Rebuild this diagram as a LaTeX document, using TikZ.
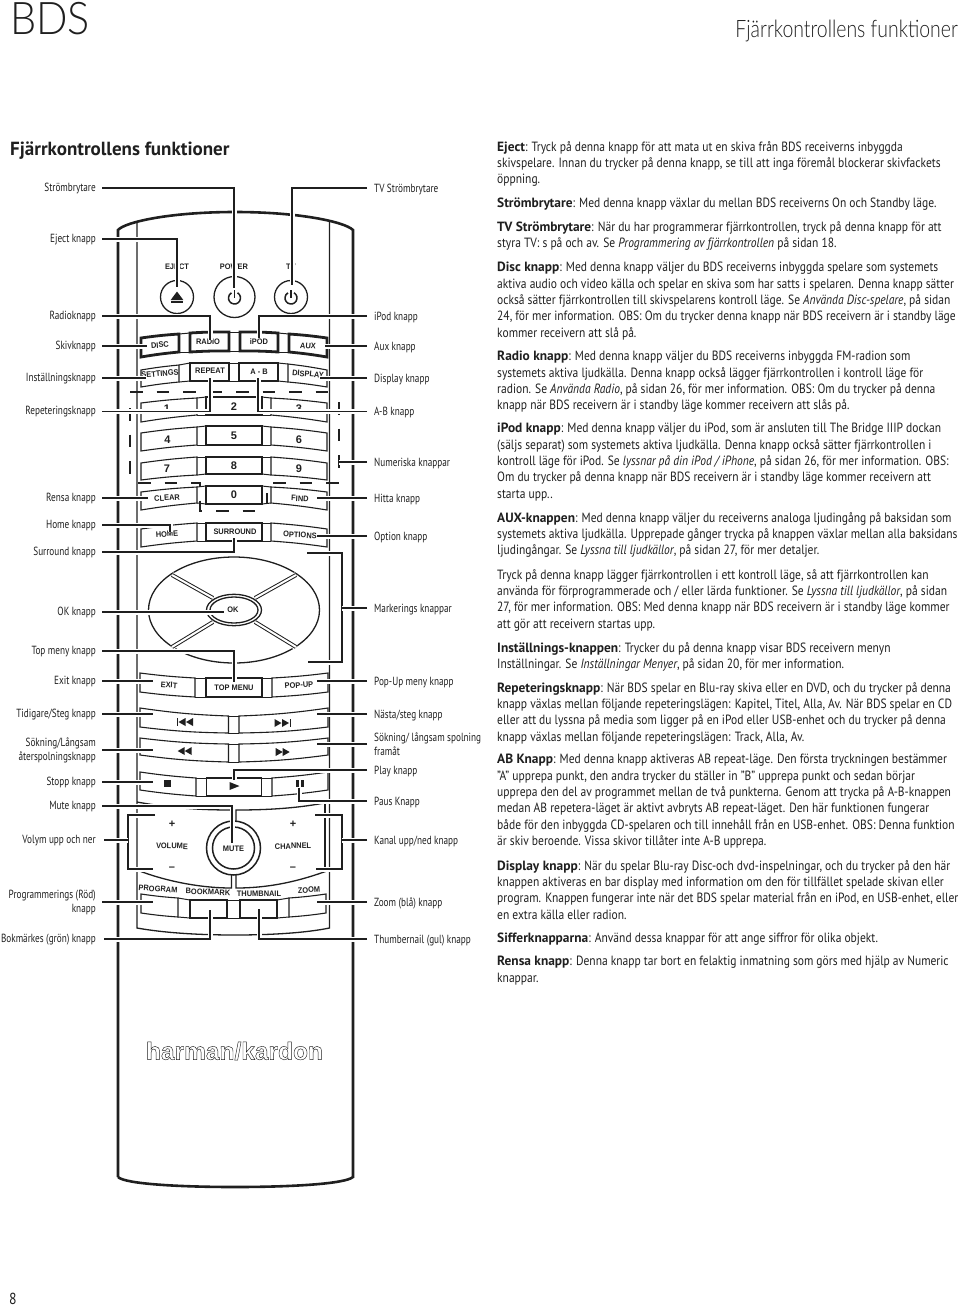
\documentclass[tikz,border=0pt]{standalone}
\usepackage{fontspec}
\usepackage{xcolor}
\setmainfont[FakeStretch=0.86,BoldFeatures={FakeStretch=1.0},ItalicFeatures={FakeStretch=0.86}]{PT Sans}
\newfontfamily\etikettfont[FakeStretch=0.78]{PT Sans}
\newfontfamily\knappfont[FakeStretch=0.93]{Liberation Sans}
\newfontfamily\logofont{Liberation Sans}
\newfontfamily\huvudfont[FakeStretch=0.92]{Lato Light}
\newfontfamily\sidfont[FakeStretch=0.81]{Lato Light}
\definecolor{trycksvart}{gray}{0.12}
\newcommand{\knapp}[8][knappline]{\draw[#1] (#2,#3) to[bend left=#8] (#4,#5) -- (#4,#6) to[bend right=#8] (#2,#7) -- cycle;}
\newcommand{\triV}[2]{\fill[trycksvart] (#1,#2) -- (#1+7,#2-4) -- (#1+7,#2+4) -- cycle;}
\newcommand{\triH}[2]{\fill[trycksvart] (#1,#2-4) -- (#1+7,#2) -- (#1,#2+4) -- cycle;}
\begin{document}
\begin{tikzpicture}[x=1pt, y=-1pt,
	every node/.style={inner sep=0pt, text=trycksvart},
	stycke/.style={anchor=north west, align=left, font=\fontsize{13.4}{16.35}\selectfont},
	etikett/.style={font=\etikettfont\fontsize{11.8}{14}\selectfont},
	vlabel/.style={etikett, anchor=east, align=right, inner xsep=6pt, text height=9.5pt, text depth=3.5pt},
	hlabel/.style={etikett, anchor=west, align=left, inner xsep=7pt, text height=10.5pt, text depth=2.5pt},
	tvarad/.style={text height=, text depth=},
	skal/.style={draw=trycksvart, line width=2.6pt},
	innerlinje/.style={draw=trycksvart, line width=1.3pt},
	knappline/.style={draw=trycksvart, line width=1.1pt, fill=white},
	knapptjock/.style={draw=trycksvart, line width=2.8pt, fill=white},
	mellanrum/.style={draw=trycksvart, line width=1pt},
	knapptext/.style={font=\knappfont\bfseries\fontsize{8}{9}\selectfont},
	siffra/.style={font=\logofont\bfseries\fontsize{11}{12}\selectfont},
	leader/.style={draw=trycksvart, line width=1.1pt, preaction={draw=white, line width=5pt}},
	sifferdash/.style={draw=trycksvart, line width=1.5pt, dash pattern=on 12.5pt off 14pt}]
\useasboundingbox (0,0) rectangle (960,1307);

\node[anchor=west, font=\huvudfont\fontsize{45}{45}\selectfont] (bds) at (10,19) {BDS};
\node[anchor=east, font=\sidfont\fontsize{24}{24}\selectfont] (sidhuvud) at (958,31) {Fjärrkontrollens funktioner};
\node[anchor=west, font=\bfseries\fontsize{19}{20}\selectfont] (rubrik) at (10,151) {Fjärrkontrollens funktioner};
\node[anchor=west, font=\fontsize{16}{16}\selectfont] (sida) at (9,1299) {8};

\draw[skal] (118,1177) -- (118,230) .. controls (125,222) and (170,212) .. (235,212) .. controls (300,212) and (345,222) .. (353,230) -- (353,1177) .. controls (345,1184) and (290,1187) .. (235,1187) .. controls (180,1187) and (125,1184) .. (118,1177);
\draw[innerlinje] (137,221) -- (137,928) .. controls (165,933) and (200,935) .. (235,935) .. controls (270,935) and (305,933) .. (329.5,928) -- (329.5,221);

\draw[line width=1.3pt, draw=trycksvart] (177,297) circle (16.5);
\draw[line width=1.3pt, draw=trycksvart] (234.5,297) circle (20.5);
\draw[line width=1.3pt, draw=trycksvart] (291,297) circle (16.5);
\fill[trycksvart] (170.7,300) -- (177,291.5) -- (183.3,300) -- cycle;
\fill[trycksvart] (170.7,301) rectangle (183.3,303);
\draw[line width=1.5pt, draw=trycksvart] (237.5,292.8) arc[start angle=-60, end angle=240, radius=6];
\draw[line width=1.5pt, draw=trycksvart] (234.5,290) -- (234.5,298);
\draw[line width=1.5pt, draw=trycksvart] (294,292.8) arc[start angle=-60, end angle=240, radius=6];
\draw[line width=1.5pt, draw=trycksvart] (291,290) -- (291,298);

\foreach \xa/\ya/\xb/\yb in {179/334/190/333, 229/332/240/332, 278/333/289/334, 179/352/190/352, 229/351/240/351, 278/352/289/352,
	179/365/190/363, 229/363/240/363, 278/363/288/364, 179/382/190/381, 229/381/240/381, 278/381/288/382,
	197/398/206/397, 262/397/271/398, 197/415/206/415, 262/415/271/415,
	197/427/206/426, 262/426/271/427, 197/445/206/445, 262/445/271/445,
	197/457/206/457, 262/457/271/457, 197/475/206/474, 262/474/271/475,
	197/487/206/486, 262/486/271/487, 197/503/206/504, 262/504/271/503,
	197/523/206/523, 262/523/271/523, 197/541/206/541, 262/541/271/541,
	195/678/206/678, 262/678/272/678, 195/697/206/697, 262/697/272/697,
	228/716/239/716, 228/733/239/733, 228/744/239/744, 228/762/239/762,
	196/778/206/778, 262/778/272/778, 196/796/206/796, 262/796/272/796,
	178/898/190/900, 227/900/240/900, 277/900/289/898, 178/917/190/918, 227/918/240/918, 277/918/289/917}
	\draw[mellanrum] (\xa,\ya) -- (\xb,\yb);

\knapp[knapptjock]{141}{338}{179}{334}{352}{357}{2}
\knapp[knapptjock]{190}{333}{229}{332}{351}{352}{2}
\knapp[knapptjock]{240}{332}{278}{333}{352}{351}{2}
\knapp[knapptjock]{289}{334}{327}{338}{357}{352}{2}
\knapp{141}{370}{179}{365}{382}{387}{2}
\knapp{190}{363}{229}{363}{381}{381}{0}
\knapp{239}{363}{278}{363}{381}{381}{0}
\knapp{288}{364}{327}{370}{387}{382}{2}
\knapp{141}{403}{197}{398}{415}{422}{2}
\knapp{206}{397}{262}{397}{415}{415}{0}
\knapp{271}{398}{327}{403}{422}{415}{2}
\knapp{141}{433}{197}{427}{445}{451}{2}
\knapp{206}{426}{262}{426}{445}{445}{0}
\knapp{271}{427}{327}{433}{451}{445}{2}
\knapp{141}{463}{197}{457}{475}{480}{2}
\knapp{206}{457}{262}{457}{474}{474}{0}
\knapp{271}{457}{327}{463}{480}{475}{2}
\knapp{141}{492}{197}{487}{503}{510}{2}
\knapp{206}{486}{262}{486}{504}{504}{0}
\knapp{271}{487}{327}{492}{510}{503}{2}
\knapp{141}{529}{197}{523}{541}{547}{2}
\knapp{206}{523}{262}{523}{541}{541}{0}
\knapp{271}{523}{327}{529}{547}{541}{2}
\knapp{140}{673}{195}{678}{697}{692}{-2}
\knapp{206}{678}{262}{678}{697}{697}{0}
\knapp{272}{678}{328}{673}{692}{697}{-2}
\knapp{140}{708}{228.5}{716}{733}{727}{-3}
\knapp{239}{716}{328}{708}{727}{733}{-3}
\knapp{140}{738}{228.5}{744}{762}{755}{-3}
\knapp{239}{744}{328}{738}{755}{762}{-3}
\knapp{140}{772}{196}{778}{796}{790}{-2}
\knapp{206.5}{778}{261.5}{778}{796}{796}{0}
\knapp{272}{778}{328}{772}{790}{796}{-2}
\knapp{141}{894}{178}{898}{917}{913}{-2}
\knapp{190}{900}{227}{900}{918}{918}{0}
\knapp{240}{900}{277}{900}{918}{918}{0}
\knapp{289}{898}{326}{894}{913}{917}{-2}

\draw[innerlinje] (137,802) .. controls (170,808) and (200,810) .. (231.5,810) -- (231.5,822);
\draw[innerlinje] (329.5,802) .. controls (300,808) and (270,810) .. (236,810) -- (236,822);
\draw[innerlinje] (137,870) .. controls (165,881) and (200,888) .. (231.5,888) -- (231.5,874);
\draw[innerlinje] (329.5,870) .. controls (300,881) and (270,888) .. (236,888) -- (236,874);
\draw[innerlinje] (325,803) -- (325,870);
\draw[line width=1.5pt, draw=trycksvart, fill=white] (233.5,848) circle (27);
\draw[line width=1.5pt, draw=trycksvart] (233.5,848) circle (21);

\draw[line width=1.3pt, draw=trycksvart] (234,610) ellipse[x radius=85.5, y radius=53];
\foreach \xa/\ya/\xb/\yb in {213/598/172/575, 255/598/296/575, 213/622/172/647, 255/622/296/647}
	\draw[line width=1pt, double=white, double distance=2pt, draw=trycksvart, preaction={draw=white, line width=6pt}] (\xa,\ya) -- (\xb,\yb);
\draw[line width=1.3pt, draw=trycksvart, fill=white] (234,610) ellipse[x radius=27.5, y radius=15.7];
\draw[line width=1.3pt, draw=trycksvart] (234,610) ellipse[x radius=24, y radius=13];

\draw[sifferdash] (130,392) -- (335,392);
\draw[sifferdash] (130,408) -- (130,480);
\draw[sifferdash] (138,483) -- (200,483) -- (200,511) -- (262,511);
\draw[line width=1.5pt, draw=trycksvart] (267,493) -- (267,504);
\draw[sifferdash] (273,483) -- (340,483);
\draw[sifferdash] (339,402) -- (339,470);

\node[knapptext] (tEject) at (177,267) {EJECT};
\node[knapptext] (tPower) at (234,267) {POWER};
\node[knapptext] (tTv) at (291,267) {TV};
\node[knapptext, rotate=5] (tDisc) at (160,345) {DISC};
\node[knapptext] (tRadio) at (208,342) {RADIO};
\node[knapptext] (tIpod) at (259,342) {iPOD};
\node[knapptext, rotate=-5] (tAux) at (308,346) {AUX};
\node[knapptext, rotate=5] (tSettings) at (160,373.5) {SETTINGS};
\node[knapptext] (tRepeat) at (210,371) {REPEAT};
\node[knapptext] (tAB) at (259,371.5) {A - B};
\node[knapptext, rotate=-5] (tDisplay) at (308,374) {DISPLAY};
\node[siffra] (t1) at (167,409) {1};
\node[siffra] (t2) at (234,407) {2};
\node[siffra] (t3) at (299,409) {3};
\node[siffra] (t4) at (167.5,440) {4};
\node[siffra] (t5) at (234,436) {5};
\node[siffra] (t6) at (299,440) {6};
\node[siffra] (t7) at (167,469) {7};
\node[siffra] (t8) at (234,466) {8};
\node[siffra] (t9) at (299,469) {9};
\node[siffra] (t0) at (234,495) {0};
\node[knapptext, rotate=4] (tClear) at (167,498) {CLEAR};
\node[knapptext, rotate=-3] (tFind) at (300,498.5) {FIND};
\node[knapptext, rotate=4] (tHome) at (167,534) {HOME};
\node[knapptext] (tSurround) at (235,532) {SURROUND};
\node[knapptext, rotate=-3] (tOptions) at (300,535) {OPTIONS};
\node[knapptext] (tOk) at (233,610) {OK};
\node[knapptext, rotate=-4] (tExit) at (169,685) {EXIT};
\node[knapptext] (tTopmenu) at (234,688) {TOP MENU};
\node[knapptext, rotate=4] (tPopup) at (299,685) {POP-UP};
\node[knapptext, rotate=-2] (tVolume) at (172,846) {VOLUME};
\node[knapptext] (tMute) at (233.5,849) {MUTE};
\node[knapptext, rotate=2] (tChannel) at (293,846) {CHANNEL};
\node[siffra] (tVplus) at (172,824) {+};
\node[siffra] (tKplus) at (293,824) {+};
\node[siffra] (tVminus) at (172,869) {–};
\node[siffra] (tKminus) at (293,869) {–};
\node[knapptext, rotate=-4] (tProgram) at (158,889) {PROGRAM};
\node[knapptext, rotate=-2] (tBookmark) at (208,892) {BOOKMARK};
\node[knapptext] (tThumbnail) at (259,894) {THUMBNAIL};
\node[knapptext, rotate=4] (tZoom) at (309,890) {ZOOM};

\fill[trycksvart] (176.7,718) rectangle (178.4,726);
\triV{178.5}{722}
\triV{186}{722}
\triH{274.5}{723}
\triH{282}{723}
\fill[trycksvart] (289.5,719) rectangle (291.3,727);
\triV{177.7}{751}
\triV{184.7}{751}
\triH{275.7}{752}
\triH{282.7}{752}
\fill[trycksvart] (163.5,780) rectangle (170.5,786.7);
\fill[trycksvart] (229.5,782) -- (239.5,786) -- (229.5,790) -- cycle;
\fill[trycksvart] (296,780) rectangle (299,787);
\fill[trycksvart] (300.7,780) rectangle (303.7,787);

\node[font=\logofont\bfseries\fontsize{24.5}{25}\selectfont] (logo) at (234.5,1051) {\special{pdf:literal direct 1 Tr 0.45 w}harman/kardon\special{pdf:literal direct 0 Tr}};

\node[vlabel] (lStrom) at (102,188) {Strömbrytare};
\node[vlabel] (lEject) at (102,239) {Eject knapp};
\node[vlabel] (lRadio) at (102,316) {Radioknapp};
\node[vlabel] (lSkiv) at (102,346) {Skivknapp};
\node[vlabel] (lInst) at (102,378) {Inställningsknapp};
\node[vlabel] (lRep) at (102,411.5) {Repeteringsknapp};
\node[vlabel] (lRensa) at (102,498) {Rensa knapp};
\node[vlabel] (lHome) at (102,525) {Home knapp};
\node[vlabel] (lSurr) at (102,552) {Surround knapp};
\node[vlabel] (lOk) at (102,612) {OK knapp};
\node[vlabel] (lTop) at (102,651) {Top meny knapp};
\node[vlabel] (lExit) at (102,681) {Exit knapp};
\node[vlabel] (lTid) at (102,714) {Tidigare/Steg knapp};
\node[vlabel, tvarad] (lSok) at (102,750) {Sökning/Långsam\\återspolningsknapp};
\node[vlabel] (lStopp) at (102,782) {Stopp knapp};
\node[vlabel] (lMute) at (102,806) {Mute knapp};
\node[vlabel, inner xsep=8pt] (lVol) at (104,840) {Volym upp och ner};
\node[vlabel, tvarad] (lProg) at (102,902) {Programmerings (Röd)\\knapp};
\node[vlabel, inner xsep=8pt] (lBok) at (104,939) {Bokmärkes (grön) knapp};

\node[hlabel] (hTv) at (367,188) {TV Strömbrytare};
\node[hlabel] (hIpod) at (367,316) {iPod knapp};
\node[hlabel] (hAux) at (367,346) {Aux knapp};
\node[hlabel] (hDisp) at (367,378) {Display knapp};
\node[hlabel] (hAB) at (367,411.5) {A-B knapp};
\node[hlabel] (hNum) at (367,462) {Numeriska knappar};
\node[hlabel] (hHitta) at (367,498) {Hitta knapp};
\node[hlabel] (hOpt) at (367,536) {Option knapp};
\node[hlabel] (hMark) at (367,608) {Markerings knappar};
\node[hlabel] (hPop) at (367,681) {Pop-Up meny knapp};
\node[hlabel] (hNasta) at (367,714) {Nästa/steg knapp};
\node[hlabel, tvarad] (hSok) at (367,744) {Sökning/ långsam spolning\\framåt};
\node[hlabel] (hPlay) at (367,770) {Play knapp};
\node[hlabel] (hPaus) at (367,801) {Paus Knapp};
\node[hlabel] (hKanal) at (367,840) {Kanal upp/ned knapp};
\node[hlabel] (hZoom) at (367,902) {Zoom (blå) knapp};
\node[hlabel] (hThumb) at (367,939) {Thumbernail (gul) knapp};

\coordinate (cPower) at (234,288);
\coordinate (cEject) at (177,287);
\coordinate (cRadio) at (210,340);
\coordinate (cDisc) at (147,346);
\coordinate (cSettings) at (146,378);
\coordinate (cRepeat) at (210,378);
\coordinate (cClear) at (148,498);
\coordinate (cHome) at (170,532);
\coordinate (cSurround) at (234,538);
\coordinate (cOk) at (224,612);
\coordinate (cTopmenu) at (234,682);
\coordinate (cExit) at (153,681);
\coordinate (cPrev) at (153,714);
\coordinate (cRew) at (153,750);
\coordinate (cStop) at (153,782);
\coordinate (cMute) at (232,843);
\coordinate (cVol) at (128,840);
\coordinate (cProg) at (153,902);
\coordinate (cBook) at (210,910);
\coordinate (cTv) at (292,285);
\coordinate (cIpod) at (259,338);
\coordinate (cAux) at (325,346);
\coordinate (cDisplay) at (320,378);
\coordinate (cAB) at (258,378);
\coordinate (cNum) at (339,462);
\coordinate (cFind) at (317,498);
\coordinate (cOptions) at (317,536);
\coordinate (cMark) at (342,608);
\coordinate (cPopup) at (317,681);
\coordinate (cNext) at (317,714);
\coordinate (cFf) at (317,744);
\coordinate (cPlay) at (234,780);
\coordinate (cPause) at (299,788);
\coordinate (cKanal) at (342,840);
\coordinate (cZoom) at (317,902);
\coordinate (cThumb) at (259,909);

\draw[leader] (155,815) -- (128,815) -- (128,869) -- (153,869);
\draw[leader] (315,815) -- (342,815) -- (342,869) -- (316,869);
\draw[leader] (307,553) -- (342,553) -- (342,662) -- (308,662);

\draw[leader] (lStrom.east) -| (cPower);
\draw[leader] (lEject.east) -| (cEject);
\draw[leader] (lRadio.east) -| (cRadio);
\draw[leader] (lSkiv.east) -- (cDisc);
\draw[leader] (lInst.east) -- (cSettings);
\draw[leader] (lRep.east) -| (cRepeat);
\draw[leader] (lRensa.east) -- (cClear);
\draw[leader] (lHome.east) -| (cHome);
\draw[leader] (lSurr.east) -| (cSurround);
\draw[leader] (lOk.east) -- (cOk);
\draw[leader] (lTop.east) -| (cTopmenu);
\draw[leader] (lExit.east) -- (cExit);
\draw[leader] (lTid.east) -- (cPrev);
\draw[leader] (lSok.east) -- (cRew);
\draw[leader] (lStopp.east) -- (cStop);
\draw[leader] (lMute.east) -| (cMute);
\draw[leader] (lVol.east) -- (cVol);
\draw[leader] (lProg.east) -- (cProg);
\draw[leader] (lBok.east) -| (cBook);
\draw[leader] (hTv.west) -| (cTv);
\draw[leader] (hIpod.west) -| (cIpod);
\draw[leader] (hAux.west) -- (cAux);
\draw[leader] (hDisp.west) -- (cDisplay);
\draw[leader] (hAB.west) -| (cAB);
\draw[leader] (hNum.west) -- (cNum);
\draw[leader] (hHitta.west) -- (cFind);
\draw[leader] (hOpt.west) -- (cOptions);
\draw[leader] (hMark.west) -- (cMark);
\draw[leader] (hPop.west) -- (cPopup);
\draw[leader] (hNasta.west) -- (cNext);
\draw[leader] (hSok.west) -- (cFf);
\draw[leader] (hPlay.west) -| (cPlay);
\draw[leader] (hPaus.west) -| (cPause);
\draw[leader] (hKanal.west) -- (cKanal);
\draw[leader] (hZoom.west) -- (cZoom);
\draw[leader] (hThumb.west) -| (cThumb);

\node[stycke] (pEject) at (497,141) {\textbf{Eject}: Tryck på denna knapp för att mata ut en skiva från BDS receiverns inbyggda\\skivspelare. Innan du trycker på denna knapp, se till att inga föremål blockerar skivfackets\\öppning.};
\node[stycke] (pStrom) at (497,198) {\textbf{Strömbrytare}: Med denna knapp växlar du mellan BDS receiverns On och Standby läge.};
\node[stycke] (pTv) at (497,221) {\textbf{TV Strömbrytare}: När du har programmerar fjärrkontrollen, tryck på denna knapp för att\\styra TV: s på och av. Se \textit{Programmering av fjärrkontrollen} på sidan 18.};
\node[stycke] (pDisc) at (497,262) {\textbf{Disc knapp}: Med denna knapp väljer du BDS receiverns inbyggda spelare som systemets\\aktiva audio och video källa och spelar en skiva som har satts i spelaren. Denna knapp sätter\\också sätter fjärrkontrollen till skivspelarens kontroll läge. Se \textit{Använda Disc-spelare}, på sidan\\24, för mer information. OBS: Om du trycker denna knapp när BDS receivern är i standby läge\\kommer receivern att slå på.};
\node[stycke] (pRadio) at (497,351) {\textbf{Radio knapp}: Med denna knapp väljer du BDS receiverns inbyggda FM-radion som\\systemets aktiva ljudkälla. Denna knapp också lägger fjärrkontrollen i kontroll läge för\\radion. Se \textit{Använda Radio}, på sidan 26, för mer information. OBS: Om du trycker på denna\\knapp när BDS receivern är i standby läge kommer receivern att slås på.};
\node[stycke] (pIpod) at (497,423) {\textbf{iPod knapp}: Med denna knapp väljer du iPod, som är ansluten till The Bridge IIIP dockan\\(säljs separat) som systemets aktiva ljudkälla. Denna knapp också sätter fjärrkontrollen i\\kontroll läge för iPod. Se \textit{lyssnar på din iPod / iPhone}, på sidan 26, för mer information. OBS:\\Om du trycker på denna knapp när BDS receivern är i standby läge kommer receivern att\\starta upp..};
\node[stycke] (pAux) at (497,512) {\textbf{AUX-knappen}: Med denna knapp väljer du receiverns analoga ljudingång på baksidan som\\systemets aktiva ljudkälla. Upprepade gånger trycka på knappen växlar mellan alla baksidans\\ljudingångar. Se \textit{Lyssna till ljudkällor}, på sidan 27, för mer detaljer.};
\node[stycke] (pTryck) at (497,569) {Tryck på denna knapp lägger fjärrkontrollen i ett kontroll läge, så att fjärrkontrollen kan\\använda för förprogrammerade och / eller lärda funktioner. Se \textit{Lyssna till ljudkällor}, på sidan\\27, för mer information. OBS: Med denna knapp när BDS receivern är i standby läge kommer\\att gör att receivern startas upp.};
\node[stycke] (pInst) at (497,642) {\textbf{Inställnings-knappen}: Trycker du på denna knapp visar BDS receivern menyn\\Inställningar. Se \textit{Inställningar Menyer}, på sidan 20, för mer information.};
\node[stycke] (pRep) at (497,682) {\textbf{Repeteringsknapp}: När BDS spelar en Blu-ray skiva eller en DVD, och du trycker på  denna\\knapp växlas mellan följande repeteringslägen: Kapitel, Titel, Alla, Av. När BDS spelar en CD\\eller att du lyssna på media som ligger på en iPod eller USB-enhet och du trycker på denna\\knapp växlas mellan följande repeteringslägen: Track, Alla, Av.};
\node[stycke] (pAB) at (497,754) {\textbf{AB Knapp}: Med denna knapp aktiveras AB repeat-läge. Den första tryckningen bestämmer\\"A" upprepa punkt, den andra trycker du ställer in "B" upprepa punkt och sedan börjar\\upprepa den del av programmet mellan de två punkterna. Genom att trycka på A-B-knappen\\medan AB repetera-läget är aktivt avbryts AB repeat-läget. Den här funktionen fungerar\\både för den inbyggda CD-spelaren och till innehåll från en USB-enhet. OBS: Denna funktion\\är skiv beroende. Vissa skivor tillåter inte A-B upprepa.};
\node[stycke] (pDisp) at (497,860) {\textbf{Display knapp}: När du spelar Blu-ray Disc-och dvd-inspelningar, och du trycker på den här\\knappen aktiveras en bar display med information om den för tillfället spelade skivan eller\\program. Knappen fungerar inte när det BDS spelar material från en iPod, en USB-enhet, eller\\en extra källa eller radion.};
\node[stycke] (pSiff) at (497,933) {\textbf{Sifferknapparna}: Använd dessa knappar för att ange siffror för olika objekt.};
\node[stycke] (pRensa) at (497,956) {\textbf{Rensa knapp}: Denna knapp tar bort en felaktig inmatning som görs med hjälp av Numeric\\knappar.};
\end{tikzpicture}
\end{document}
